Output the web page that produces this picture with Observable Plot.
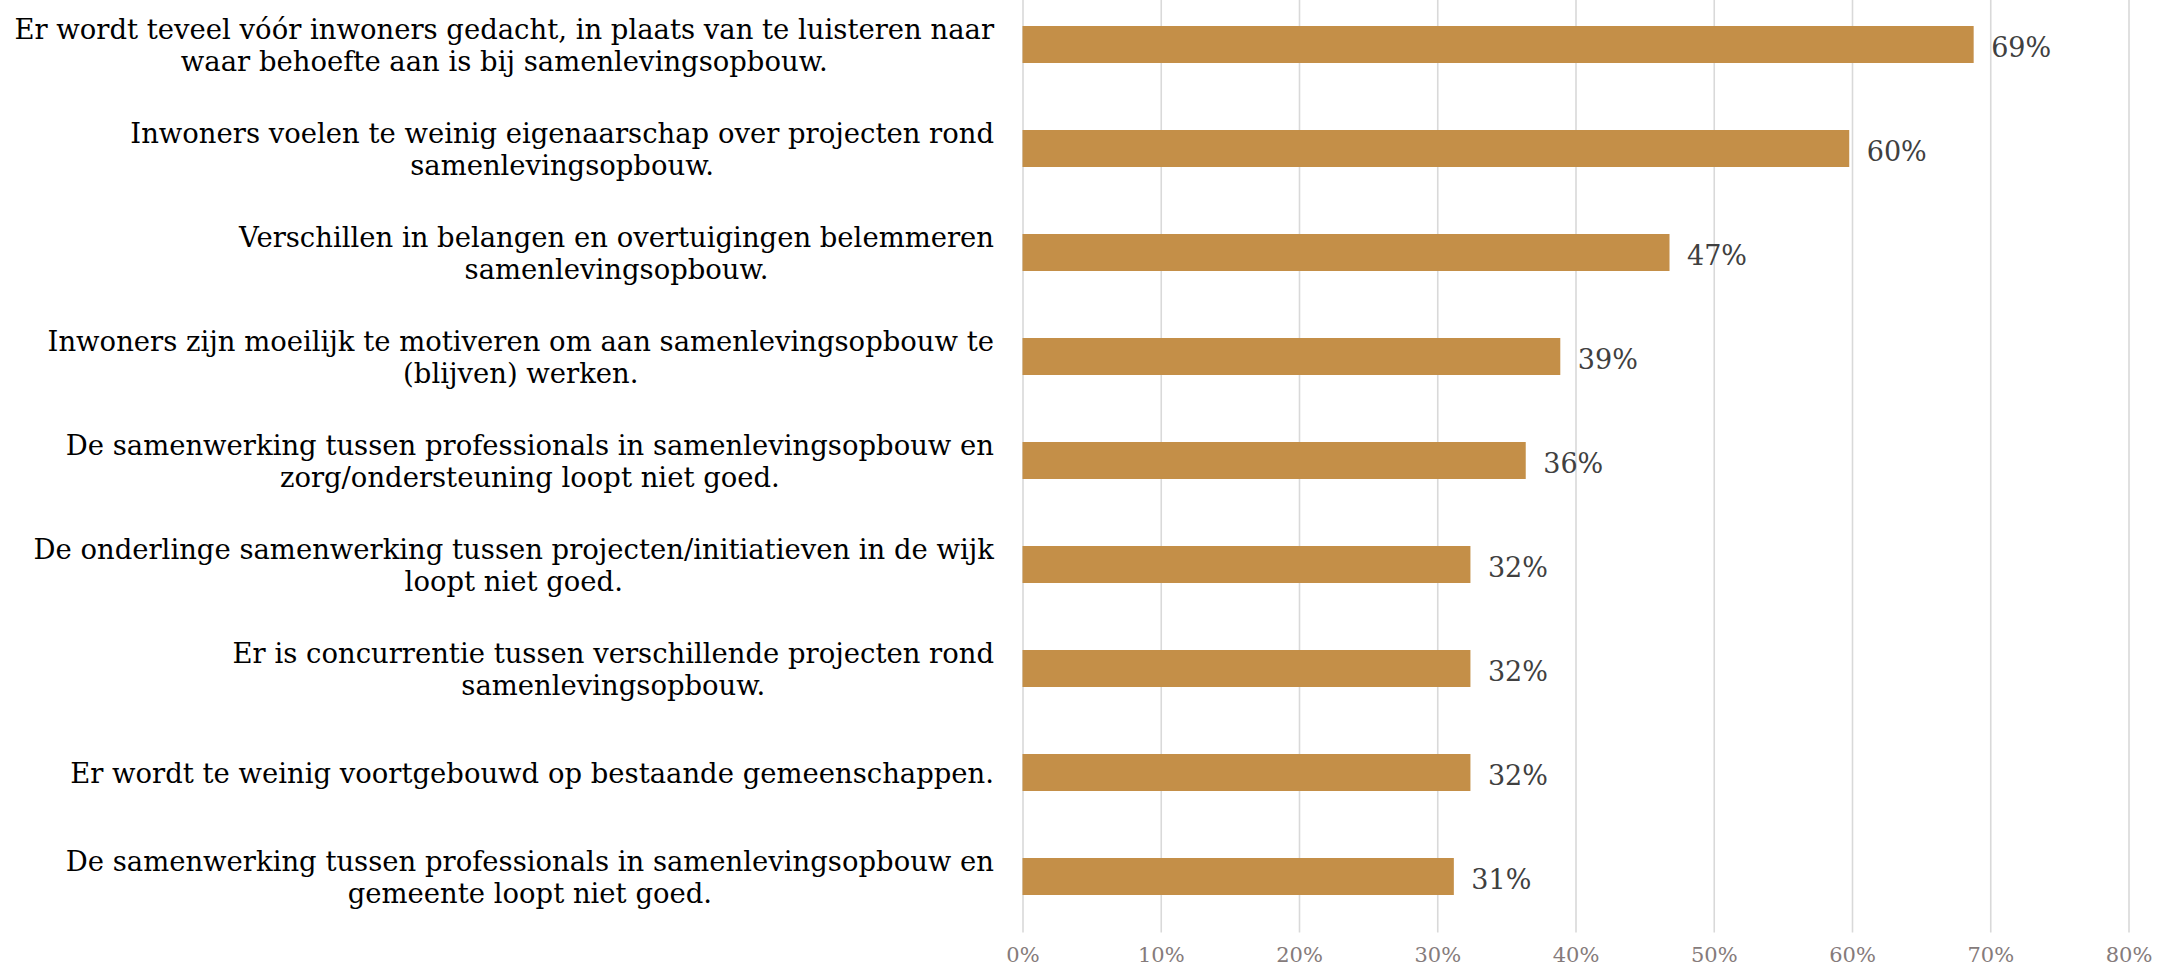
<!DOCTYPE html>
<html><head><meta charset="utf-8">
<script src="https://cdn.jsdelivr.net/npm/d3@7"></script>
<script src="https://cdn.jsdelivr.net/npm/@observablehq/plot@0.6"></script>
<style>body{margin:0;background:#fff;overflow:hidden}</style>
</head><body><div id="chart"></div>
<script>
const categories = [
  "Er wordt teveel vóór inwoners gedacht, in plaats van te luisteren naar\nwaar behoefte aan is bij samenlevingsopbouw.",
  "Inwoners voelen te weinig eigenaarschap over projecten rond\nsamenlevingsopbouw.",
  "Verschillen in belangen en overtuigingen belemmeren\nsamenlevingsopbouw.",
  "Inwoners zijn moeilijk te motiveren om aan samenlevingsopbouw te\n(blijven) werken.",
  "De samenwerking tussen professionals in samenlevingsopbouw en\nzorg/ondersteuning loopt niet goed.",
  "De onderlinge samenwerking tussen projecten/initiatieven in de wijk\nloopt niet goed.",
  "Er is concurrentie tussen verschillende projecten rond\nsamenlevingsopbouw.",
  "Er wordt te weinig voortgebouwd op bestaande gemeenschappen.",
  "De samenwerking tussen professionals in samenlevingsopbouw en\ngemeente loopt niet goed."
];
const values = [0.688, 0.598, 0.468, 0.389, 0.364, 0.324, 0.324, 0.324, 0.312];
const valueLabels = ["69%", "60%", "47%", "39%", "36%", "32%", "32%", "32%", "31%"];
const xTicks = [0, 0.1, 0.2, 0.3, 0.4, 0.5, 0.6, 0.7, 0.8];

const FONT = "DejaVu Serif";
const W = 2164, H = 973;
const mLeft = 1022.5, mRight = 35.5, mBottom = 40.4;

const data = categories.map((c, i) => ({cat: c, value: values[i], label: valueLabels[i]}));

// measure text to size and place the centred category labels
const ctx = document.createElement("canvas").getContext("2d");
ctx.font = `100px "${FONT}"`;
const longest = d3.max(categories.flatMap(c => c.split("\n")), s => ctx.measureText(s).width);
const catSize = 980 / longest * 100;
ctx.font = `${catSize}px "${FONT}"`;
const labelGap = 29;

const catMarks = data.map(d => {
  const w = d3.max(d.cat.split("\n"), s => ctx.measureText(s).width);
  return Plot.text([d], {
    x: () => 0, y: "cat", text: "cat",
    textAnchor: "middle", dx: -(labelGap + w / 2),
    fontSize: catSize, lineHeight: 32.3 / catSize, fill: "#000"
  });
});

const plot = Plot.plot({
  width: W, height: H,
  marginLeft: mLeft, marginRight: mRight, marginTop: 0, marginBottom: mBottom,
  style: {fontFamily: FONT, background: "#fff"},
  x: {domain: [0, 0.8], axis: null, label: null},
  y: {type: "band", domain: categories, range: [-10.7, H - mBottom], paddingInner: 0.644, paddingOuter: 0.322, axis: null, label: null},
  marks: [
    Plot.gridX(xTicks, {stroke: "#d9d9d9", strokeOpacity: 1, strokeWidth: 1.6}),
    Plot.barX(data, {x: "value", y: "cat", fill: "#C48F48"}),
    Plot.text(data, {x: "value", y: "cat", text: "label", textAnchor: "start", dx: 17, dy: 3, fontSize: 27, fill: "#404040"}),
    Plot.axisX(xTicks, {tickFormat: d3.format(".0%"), tickSize: 0, tickPadding: 14, fontSize: 21, color: "#857b7b", label: null}),
    ...catMarks
  ]
});
document.getElementById("chart").appendChild(plot);
</script>
</body></html>
